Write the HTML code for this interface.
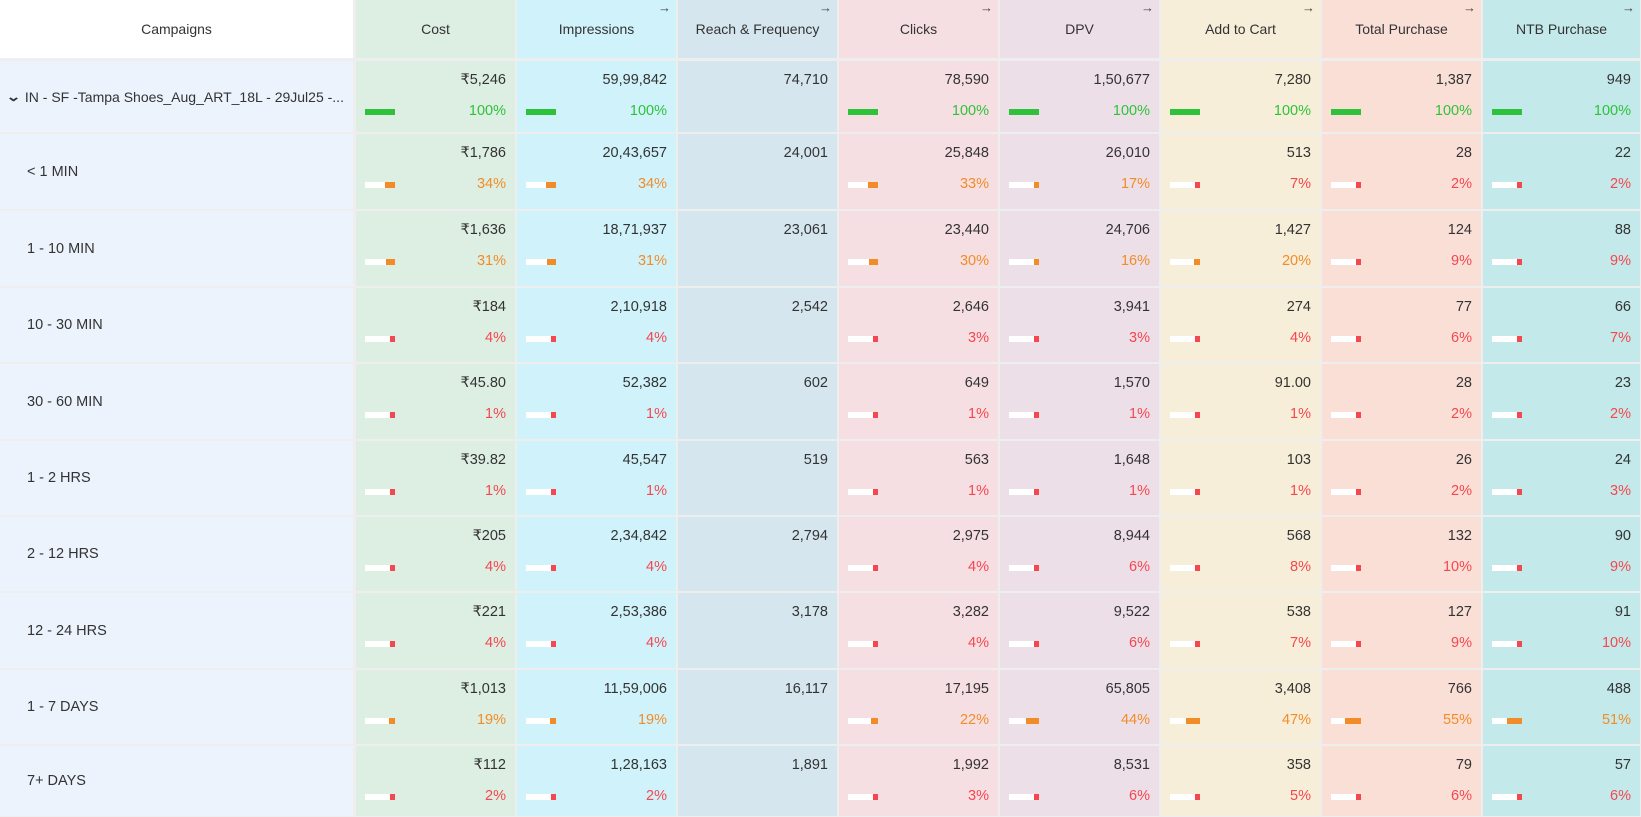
<!DOCTYPE html>
<html><head><meta charset="utf-8"><style>
body{margin:0;width:1641px;height:817px;background:#eeeeee;font-family:"Liberation Sans",sans-serif;overflow:hidden;position:relative}
.c{position:absolute;box-sizing:border-box;color:#333}
.h{display:flex;align-items:center;justify-content:center;font-size:14px;color:#333}
.v{position:absolute;right:9px;top:11px;font-size:14.5px;color:#333}
.p{position:absolute;right:9px;top:42px;font-size:14.5px}
.bar{position:absolute;left:9px;top:48px;width:30px;height:6px;background:#fff}
.fill{position:absolute;right:0;top:0;height:6px}
.arr{position:absolute;right:5px;top:0px;font-size:13px;color:#444}
.lab{position:absolute;left:27px;font-size:14.5px;color:#333;display:flex;align-items:center;height:100%;white-space:nowrap}
</style></head><body>
<script>
const columns=["Cost","Impressions","Reach & Frequency","Clicks","DPV","Add to Cart","Total Purchase","NTB Purchase"];
const colors=["#ddeee3","#d0f2fa","#d5e6ef","#f6dfe2","#eddfe8","#f6eed8","#fadfd7","#c3e9ea"];
const rowLabels=["IN - SF -Tampa Shoes_Aug_ART_18L - 29Jul25 -...","< 1 MIN","1 - 10 MIN","10 - 30 MIN","30 - 60 MIN","1 - 2 HRS","2 - 12 HRS","12 - 24 HRS","1 - 7 DAYS","7+ DAYS"];
const values=[
["₹5,246","59,99,842","74,710","78,590","1,50,677","7,280","1,387","949"],
["₹1,786","20,43,657","24,001","25,848","26,010","513","28","22"],
["₹1,636","18,71,937","23,061","23,440","24,706","1,427","124","88"],
["₹184","2,10,918","2,542","2,646","3,941","274","77","66"],
["₹45.80","52,382","602","649","1,570","91.00","28","23"],
["₹39.82","45,547","519","563","1,648","103","26","24"],
["₹205","2,34,842","2,794","2,975","8,944","568","132","90"],
["₹221","2,53,386","3,178","3,282","9,522","538","127","91"],
["₹1,013","11,59,006","16,117","17,195","65,805","3,408","766","488"],
["₹112","1,28,163","1,891","1,992","8,531","358","79","57"]];
const percents=[
[100,100,null,100,100,100,100,100],
[34,34,null,33,17,7,2,2],
[31,31,null,30,16,20,9,9],
[4,4,null,3,3,4,6,7],
[1,1,null,1,1,1,2,2],
[1,1,null,1,1,1,2,3],
[4,4,null,4,6,8,10,9],
[4,4,null,4,6,7,9,10],
[19,19,null,22,44,47,55,51],
[2,2,null,3,6,5,6,6]];
const colX=[355,516,677,838,999,1160,1321,1482,1641];
const rowY=[60,133,210,287,363,440,516,592,669,745,817];
function col(p){return p>=100?"#2ec23a":(p>10?"#f28c28":"#f5474f");}
function mk(cls,x,y,w,h,bg){const d=document.createElement('div');d.className=cls;d.style.left=x+'px';d.style.top=y+'px';d.style.width=w+'px';d.style.height=h+'px';if(bg)d.style.background=bg;document.body.appendChild(d);return d;}
let hd=mk('c h',0,0,353,58,'#fff');hd.textContent='Campaigns';


columns.forEach((n,i)=>{const d=mk('c h',colX[i]+1,0,colX[i+1]-colX[i]-2,58,colors[i]);d.textContent=n;


if(i>0){const a=document.createElement('span');a.className='arr';a.textContent='→';d.appendChild(a);}});
rowLabels.forEach((l,r)=>{const y=rowY[r]+1,h=rowY[r+1]-rowY[r]-2;
const c=mk('c',0,y,353,h,'#ecf3fd');


const s=document.createElement('div');s.className='lab';
if(r===0){s.style.left='8px';s.style.fontSize='14px';s.innerHTML='<span style="font-size:13px;margin-right:6px;display:inline-block;transform:scaleX(1.4);font-weight:bold">&#8964;</span>'+l.replace(/</g,'&lt;');}else s.textContent=l;
c.appendChild(s);
columns.forEach((n,i)=>{const d=mk('c',colX[i]+1,y,colX[i+1]-colX[i]-2,h,colors[i]);


const v=document.createElement('div');v.className='v';v.textContent=values[r][i];d.appendChild(v);
const p=percents[r][i];if(p!==null){const t=document.createElement('div');t.className='p';t.style.color=col(p);t.textContent=p+'%';d.appendChild(t);
const b=document.createElement('div');b.className='bar';const f=document.createElement('div');f.className='fill';f.style.width=Math.max(5,p*30/100)+'px';f.style.background=col(p);b.appendChild(f);d.appendChild(b);}});});
</script>
</body></html>
